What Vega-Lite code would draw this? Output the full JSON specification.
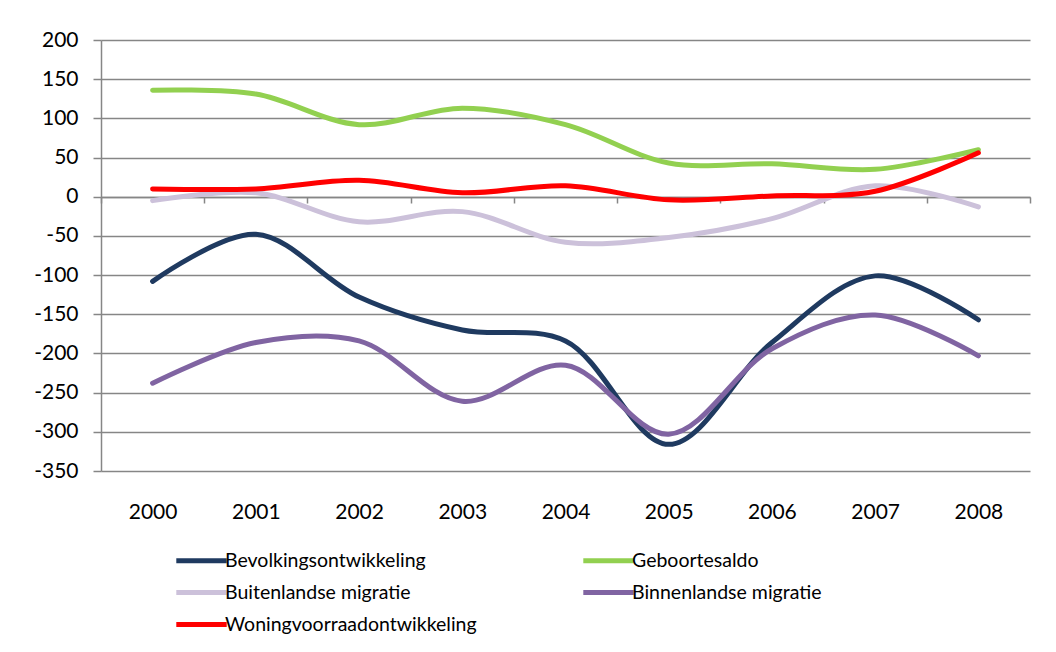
{
  "$schema": "https://vega.github.io/schema/vega-lite/v6.json",
  "width": 929,
  "height": 431,
  "autosize": {"type": "none"},
  "padding": {"left": 101, "top": 40, "right": 26, "bottom": 181},
  "background": "white",
  "config": {
    "font": "Lato",
    "view": {"stroke": null},
    "axis": {"labelFont": "Lato", "labelColor": "#000000"},
    "legend": {"labelFont": "Lato"}
  },
  "data": {
    "values": [
      {"jaar": "2000", "reeks": "Bevolkingsontwikkeling", "waarde": -108},
      {"jaar": "2001", "reeks": "Bevolkingsontwikkeling", "waarde": -48},
      {"jaar": "2002", "reeks": "Bevolkingsontwikkeling", "waarde": -128},
      {"jaar": "2003", "reeks": "Bevolkingsontwikkeling", "waarde": -170},
      {"jaar": "2004", "reeks": "Bevolkingsontwikkeling", "waarde": -184},
      {"jaar": "2005", "reeks": "Bevolkingsontwikkeling", "waarde": -316},
      {"jaar": "2006", "reeks": "Bevolkingsontwikkeling", "waarde": -186},
      {"jaar": "2007", "reeks": "Bevolkingsontwikkeling", "waarde": -101},
      {"jaar": "2008", "reeks": "Bevolkingsontwikkeling", "waarde": -157},
      {"jaar": "2000", "reeks": "Geboortesaldo", "waarde": 136},
      {"jaar": "2001", "reeks": "Geboortesaldo", "waarde": 131},
      {"jaar": "2002", "reeks": "Geboortesaldo", "waarde": 92},
      {"jaar": "2003", "reeks": "Geboortesaldo", "waarde": 113},
      {"jaar": "2004", "reeks": "Geboortesaldo", "waarde": 92},
      {"jaar": "2005", "reeks": "Geboortesaldo", "waarde": 43},
      {"jaar": "2006", "reeks": "Geboortesaldo", "waarde": 42},
      {"jaar": "2007", "reeks": "Geboortesaldo", "waarde": 35},
      {"jaar": "2008", "reeks": "Geboortesaldo", "waarde": 60},
      {"jaar": "2000", "reeks": "Buitenlandse migratie", "waarde": -5},
      {"jaar": "2001", "reeks": "Buitenlandse migratie", "waarde": 5},
      {"jaar": "2002", "reeks": "Buitenlandse migratie", "waarde": -32},
      {"jaar": "2003", "reeks": "Buitenlandse migratie", "waarde": -19},
      {"jaar": "2004", "reeks": "Buitenlandse migratie", "waarde": -58},
      {"jaar": "2005", "reeks": "Buitenlandse migratie", "waarde": -52},
      {"jaar": "2006", "reeks": "Buitenlandse migratie", "waarde": -28},
      {"jaar": "2007", "reeks": "Buitenlandse migratie", "waarde": 14},
      {"jaar": "2008", "reeks": "Buitenlandse migratie", "waarde": -13},
      {"jaar": "2000", "reeks": "Binnenlandse migratie", "waarde": -238},
      {"jaar": "2001", "reeks": "Binnenlandse migratie", "waarde": -186},
      {"jaar": "2002", "reeks": "Binnenlandse migratie", "waarde": -184},
      {"jaar": "2003", "reeks": "Binnenlandse migratie", "waarde": -261},
      {"jaar": "2004", "reeks": "Binnenlandse migratie", "waarde": -215},
      {"jaar": "2005", "reeks": "Binnenlandse migratie", "waarde": -303},
      {"jaar": "2006", "reeks": "Binnenlandse migratie", "waarde": -194},
      {"jaar": "2007", "reeks": "Binnenlandse migratie", "waarde": -151},
      {"jaar": "2008", "reeks": "Binnenlandse migratie", "waarde": -203},
      {"jaar": "2000", "reeks": "Woningvoorraadontwikkeling", "waarde": 10},
      {"jaar": "2001", "reeks": "Woningvoorraadontwikkeling", "waarde": 10},
      {"jaar": "2002", "reeks": "Woningvoorraadontwikkeling", "waarde": 21},
      {"jaar": "2003", "reeks": "Woningvoorraadontwikkeling", "waarde": 5},
      {"jaar": "2004", "reeks": "Woningvoorraadontwikkeling", "waarde": 14},
      {"jaar": "2005", "reeks": "Woningvoorraadontwikkeling", "waarde": -4},
      {"jaar": "2006", "reeks": "Woningvoorraadontwikkeling", "waarde": 1},
      {"jaar": "2007", "reeks": "Woningvoorraadontwikkeling", "waarde": 7},
      {"jaar": "2008", "reeks": "Woningvoorraadontwikkeling", "waarde": 56}
    ]
  },
  "mark": {"type": "line", "strokeWidth": 5, "strokeCap": "round", "interpolate": "catmull-rom"},
  "encoding": {
    "x": {
      "field": "jaar",
      "type": "ordinal",
      "bandPosition": 0.5,
      "scale": {"type": "band", "paddingInner": 0, "paddingOuter": 0},
      "axis": {
        "title": null,
        "offset": -274,
        "tickBand": "extent",
        "tickSize": 6,
        "tickColor": "#868686",
        "tickWidth": 1.5,
        "domainColor": "#868686",
        "domainWidth": 1.5,
        "labelAngle": 0,
        "labelFontSize": 21,
        "labelPadding": 298,
        "grid": false
      }
    },
    "y": {
      "field": "waarde",
      "type": "quantitative",
      "scale": {"domain": [-350, 200], "nice": false, "zero": false},
      "axis": {
        "title": null,
        "values": [-350, -300, -250, -200, -150, -100, -50, 0, 50, 100, 150, 200],
        "labelExpr": "replace(datum.label, '\u2212', '-')",
        "grid": true,
        "gridColor": "#868686",
        "gridWidth": 1.5,
        "domainColor": "#868686",
        "domainWidth": 1.5,
        "tickColor": "#868686",
        "tickWidth": 1.5,
        "tickSize": 8,
        "labelFontSize": 21,
        "labelPadding": 15
      }
    },
    "color": {
      "field": "reeks",
      "type": "nominal",
      "scale": {
        "domain": ["Bevolkingsontwikkeling", "Geboortesaldo", "Buitenlandse migratie", "Binnenlandse migratie", "Woningvoorraadontwikkeling"],
        "range": ["#1F3A60", "#92D050", "#CCC1DA", "#8064A2", "#FF0000"]
      },
      "legend": {
        "title": null,
        "orient": "none",
        "direction": "horizontal",
        "legendX": 80,
        "legendY": 500,
        "columns": 2,
        "columnPadding": 96,
        "rowPadding": 1,
        "symbolType": "M-1.4,0H1.4",
        "symbolSize": 1296,
        "symbolStrokeWidth": 5,
        "labelFontSize": 19.5,
        "labelOffset": 3,
        "labelLimit": 400,
        "labelColor": "#000000"
      }
    }
  }
}
